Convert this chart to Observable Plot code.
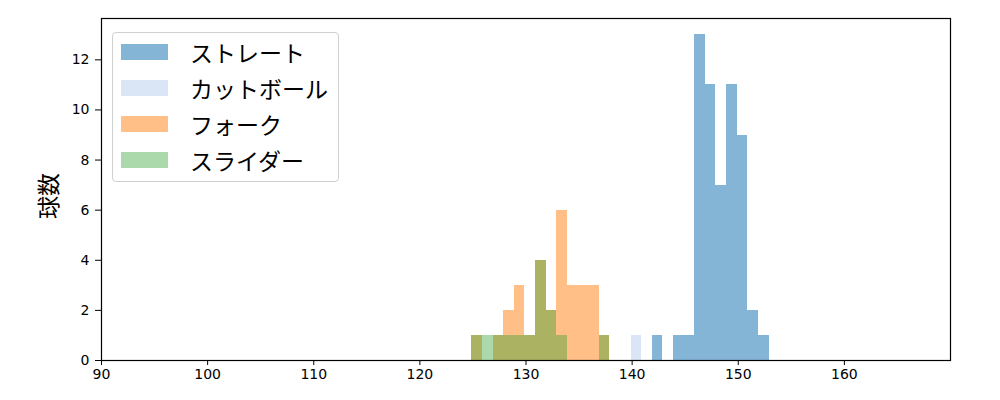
<!DOCTYPE html>
<html>
<head>
<meta charset="utf-8">
<script src="https://cdn.jsdelivr.net/npm/d3@7"></script>
<script src="https://cdn.jsdelivr.net/npm/@observablehq/plot@0.6"></script>
<style>
  html, body { margin: 0; padding: 0; background: #fff; }
  #wrap { position: relative; width: 1000px; height: 400px; }
  #wrap svg { font-family: "DejaVu Sans", sans-serif; }
  #ylabel {
    position: absolute; left: 47px; top: 196px; transform: translate(-50%, -50%) rotate(-90deg);
    font-family: "Noto Sans CJK JP", sans-serif; font-size: 23px; color: #000; white-space: nowrap;
  }
  #legend {
    position: absolute; left: 112px; top: 32px; width: 225px; height: 148px;
    border: 1px solid #d0d0d0; border-radius: 4px; background: rgba(255,255,255,0.8);
    font-family: "Noto Sans CJK JP", sans-serif; font-size: 23px; color: #000;
  }
  .item { position: absolute; left: 8px; height: 20px; display: flex; align-items: center; }
  .sw { width: 47px; height: 16px; margin-right: 22px; }
</style>
</head>
<body>
<div id="wrap"><div id="legend"></div><div id="ylabel">球数</div></div>
<script>
const seriesNames = ["ストレート", "カットボール", "フォーク", "スライダー"];
const seriesColors = ["#1f77b4", "#aec7e8", "#ff7f0e", "#2ca02c"];
const seriesOpacity = [0.55, 0.45, 0.5, 0.4];
const binEdges = [124.9,125.9,126.9,127.9,128.9,129.9,130.9,131.9,132.9,133.9,134.9,135.9,136.9,137.9,138.9,139.9,140.9,141.9,142.9,143.9,144.9,145.9,146.9,147.9,148.9,149.9,150.9,151.9,152.9];
const straightCounts = [0,0,0,0,0,0,0,0,0,0,0,0,0,0,0,0,0,1,0,1,1,13,11,7,11,9,2,1];
const cutCounts      = [0,0,0,0,0,0,0,0,0,0,0,0,0,0,0,1,0,0,0,0,0,0,0,0,0,0,0,0];
const forkCounts     = [1,0,1,2,3,1,4,2,6,3,3,3,1,0,0,0,0,0,0,0,0,0,0,0,0,0,0,0];
const sliderCounts   = [1,1,1,1,1,1,4,2,1,0,0,0,1,0,0,0,0,0,0,0,0,0,0,0,0,0,0,0];
const xTicks = [90,100,110,120,130,140,150,160];
const yTicks = [0,2,4,6,8,10,12];

const allCounts = [straightCounts, cutCounts, forkCounts, sliderCounts];
const rows = [];
allCounts.forEach((counts, s) => {
  counts.forEach((c, i) => {
    if (c > 0) rows.push({series: seriesNames[s], x1: binEdges[i], x2: binEdges[i + 1], count: c});
  });
});

const chart = Plot.plot({
  width: 1000,
  height: 400,
  marginLeft: 101,
  marginRight: 50,
  marginTop: 18,
  marginBottom: 40,
  style: {fontSize: "14px", fontFamily: "DejaVu Sans, sans-serif", color: "#000", background: "#fff"},
  x: {domain: [90, 170]},
  y: {domain: [0, 13.65]},
  color: {domain: seriesNames, range: seriesColors},
  marks: [
    ...seriesNames.map((name, s) => Plot.rectY(rows.filter(d => d.series === name), {
      x1: "x1", x2: "x2", y: "count", fill: "series", fillOpacity: seriesOpacity[s], inset: 0,
      shapeRendering: "crispEdges"
    })),
    Plot.frame({stroke: "#000", strokeWidth: 1.2}),
    Plot.axisX({ticks: xTicks, tickSize: 5, tickPadding: 4, label: null, stroke: "#000"}),
    Plot.axisY({ticks: yTicks, tickSize: 6, tickPadding: 6, label: null, stroke: "#000"})
  ]
});
document.getElementById("wrap").prepend(chart);

const legend = document.getElementById("legend");
seriesNames.forEach((name, i) => {
  const item = document.createElement("div");
  item.className = "item";
  item.style.top = (9 + i * 36) + "px";
  const sw = document.createElement("div");
  sw.className = "sw";
  sw.style.background = seriesColors[i];
  sw.style.opacity = seriesOpacity[i];
  const t = document.createElement("span");
  t.textContent = name;
  item.appendChild(sw);
  item.appendChild(t);
  legend.appendChild(item);
});
</script>
</body>
</html>
